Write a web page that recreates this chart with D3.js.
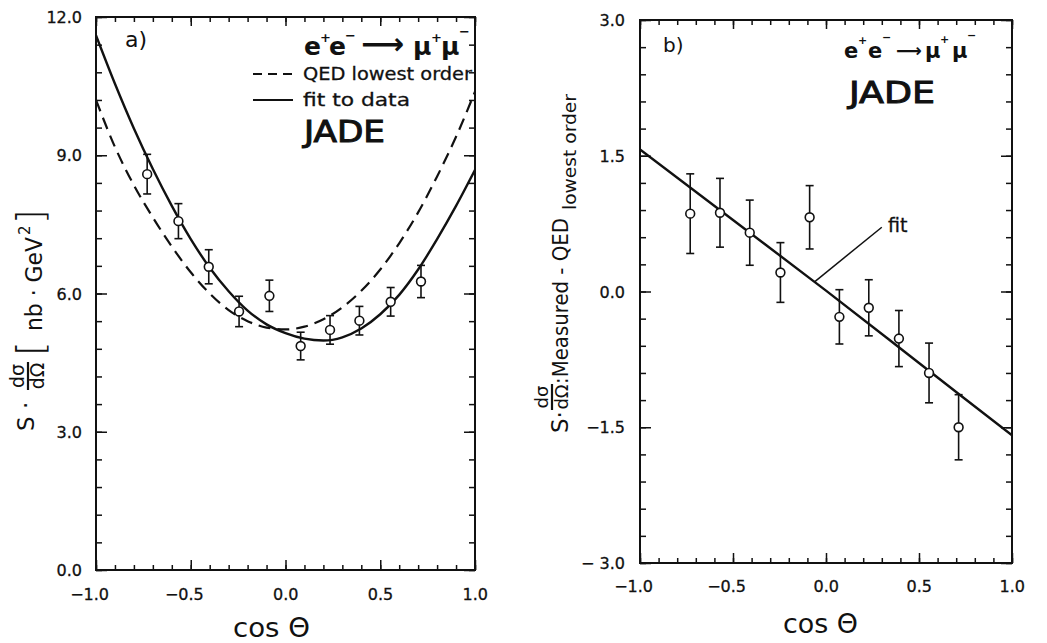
<!DOCTYPE html>
<html><head><meta charset="utf-8">
<script src="https://cdn.jsdelivr.net/npm/d3@7"></script>
<style>
body{margin:0;background:#fff}
svg{display:block;background:#fff}
text{font-family:"DejaVu Sans","Liberation Sans",sans-serif;fill:#111}
</style>
</head><body>
<svg id="chart" width="1047" height="643"></svg>
<script>
// ---------------- data ----------------
// panel a) : measured S*dsigma/dOmega [nb GeV^2] per cos(theta) bin
const binCosA   = [-0.73, -0.565, -0.405, -0.245, -0.085, 0.08, 0.235, 0.39, 0.555, 0.715];
const measuredA = [8.59, 7.57, 6.58, 5.61, 5.95, 4.86, 5.21, 5.41, 5.82, 6.26];
const errorA    = [0.43, 0.38, 0.37, 0.33, 0.34, 0.30, 0.31, 0.31, 0.31, 0.35];
// curves of panel a)
const curveCos  = [-1.0,-0.9,-0.8,-0.7,-0.6,-0.5,-0.4,-0.3,-0.2,-0.1,0.0,0.1,0.2,0.3,0.4,0.5,0.6,0.7,0.8,0.9,1.0];
const qedLowest = [10.20,9.18,8.35,7.65,7.02,6.46,6.00,5.64,5.40,5.26,5.22,5.28,5.44,5.70,6.06,6.52,7.09,7.76,8.54,9.40,10.38];
const fitToData = [11.60,10.55,9.58,8.70,7.90,7.18,6.56,6.05,5.63,5.33,5.14,5.02,4.98,5.05,5.24,5.55,5.97,6.52,7.18,7.90,8.68];
// panel b) : measured - QED lowest order
const binCosB   = [-0.73, -0.57, -0.41, -0.245, -0.088, 0.072, 0.23, 0.392, 0.554, 0.713];
const diffB     = [0.86, 0.87, 0.65, 0.21, 0.82, -0.28, -0.18, -0.52, -0.90, -1.50];
const errorB    = [0.44, 0.38, 0.36, 0.33, 0.35, 0.30, 0.31, 0.31, 0.33, 0.36];
const fitCosB   = [-1.0, -0.5, 0.0, 0.5, 1.0];
const fitB      = [1.57, 0.79, 0.01, -0.79, -1.59];
// ticks
const xMajor      = [-1.0, -0.5, 0.0, 0.5, 1.0];
const xTickLabels = ["\u22121.0", "\u22120.5", "0.0", "0.5", "1.0"];
const xMinor      = d3.range(-10, 11).map(i => i / 10);
const yMajorA     = [0, 3, 6, 9, 12];
const yLabelsA    = ["0.0", "3.0", "6.0", "9.0", "12.0"];
const yMinorA     = d3.range(0, 21).map(i => +(i * 0.6).toFixed(2));
const yMajorB     = [-3, -1.5, 0, 1.5, 3];
const yLabelsB    = ["\u2212 3.0", "\u22121.5", "0.0", "1.5", "3.0"];
const yMinorB     = d3.range(-10, 11).map(i => +(i * 0.3).toFixed(2));

// ---------------- layout ----------------
const svg = d3.select("#chart");
const A = {x0: 96, x1: 475, y0: 570, y1: 17};
const B = {x0: 640, x1: 1012, y0: 563, y1: 20};
const xA = d3.scaleLinear().domain([-1, 1]).range([A.x0, A.x1]);
const yA = d3.scaleLinear().domain([0, 12]).range([A.y0, A.y1]);
const xB = d3.scaleLinear().domain([-1, 1]).range([B.x0, B.x1]);
const yB = d3.scaleLinear().domain([-3, 3]).range([B.y0, B.y1]);

function frame(P, x, y, yMinor, yMajor) {
  const g = svg.append("g");
  const add = (axis, tr) => {
    const a = g.append("g").attr("transform", tr).call(axis);
    a.select(".domain").remove();
    a.selectAll("line").attr("stroke", "#111").attr("stroke-width", 1.5);
    a.selectAll("text").remove();
  };
  add(d3.axisBottom(x).tickValues(xMinor).tickSize(-5), `translate(0,${P.y0})`);
  add(d3.axisBottom(x).tickValues(xMajor).tickSize(-10), `translate(0,${P.y0})`);
  add(d3.axisTop(x).tickValues(xMinor).tickSize(-5), `translate(0,${P.y1})`);
  add(d3.axisTop(x).tickValues(xMajor).tickSize(-9), `translate(0,${P.y1})`);
  add(d3.axisLeft(y).tickValues(yMinor).tickSize(-6), `translate(${P.x0},0)`);
  add(d3.axisLeft(y).tickValues(yMajor).tickSize(-11), `translate(${P.x0},0)`);
  add(d3.axisRight(y).tickValues(yMinor).tickSize(-6), `translate(${P.x1},0)`);
  add(d3.axisRight(y).tickValues(yMajor).tickSize(-11), `translate(${P.x1},0)`);
  g.append("rect").attr("x", P.x0).attr("y", P.y1)
    .attr("width", P.x1 - P.x0).attr("height", P.y0 - P.y1)
    .attr("fill", "none").attr("stroke", "#111").attr("stroke-width", 2);
  return g;
}
frame(A, xA, yA, yMinorA, yMajorA);
frame(B, xB, yB, yMinorB, yMajorB);

// tick labels
function tickLabels(x, y, yMajor, yLabels, xBase, yEnd) {
  svg.append("g").selectAll("text").data(xMajor).join("text")
    .attr("x", d => x(d) + 13).attr("y", xBase)
    .attr("text-anchor", "end").attr("font-size", 16)
    .attr("stroke", "#111").attr("stroke-width", 0.3)
    .text((d, i) => xTickLabels[i]);
  svg.append("g").selectAll("text").data(yMajor).join("text")
    .attr("x", yEnd).attr("y", d => y(d) + 6)
    .attr("text-anchor", "end").attr("font-size", 16)
    .attr("stroke", "#111").attr("stroke-width", 0.3)
    .text((d, i) => yLabels[i]);
}
tickLabels(xA, yA, yMajorA, yLabelsA, 600, 82);
tickLabels(xB, yB, yMajorB, yLabelsB, 592, 625);

// clip
svg.append("clipPath").attr("id", "clipA").append("rect")
  .attr("x", A.x0).attr("y", A.y1).attr("width", A.x1 - A.x0).attr("height", A.y0 - A.y1);
svg.append("clipPath").attr("id", "clipB").append("rect")
  .attr("x", B.x0).attr("y", B.y1).attr("width", B.x1 - B.x0).attr("height", B.y0 - B.y1);

// curves panel a
const lineA = d3.line().x(d => xA(d[0])).y(d => yA(d[1])).curve(d3.curveMonotoneX);
svg.append("path").attr("clip-path", "url(#clipA)")
  .attr("d", lineA(curveCos.map((c, i) => [c, qedLowest[i]])))
  .attr("fill", "none").attr("stroke", "#111").attr("stroke-width", 2.2)
  .attr("stroke-dasharray", "12,7");
svg.append("path").attr("clip-path", "url(#clipA)")
  .attr("d", lineA(curveCos.map((c, i) => [c, fitToData[i]])))
  .attr("fill", "none").attr("stroke", "#111").attr("stroke-width", 2.4);

// fit line panel b
const lineB = d3.line().x(d => xB(d[0])).y(d => yB(d[1])).curve(d3.curveMonotoneX);
svg.append("path").attr("clip-path", "url(#clipB)")
  .attr("d", lineB(fitCosB.map((c, i) => [c, fitB[i]])))
  .attr("fill", "none").attr("stroke", "#111").attr("stroke-width", 2.4);

// error bars + points
function points(xs, vs, es, x, y) {
  const g = svg.append("g").attr("stroke", "#111").attr("stroke-width", 1.6);
  const d = xs.map((c, i) => ({c, v: vs[i], e: es[i]}));
  g.selectAll("line.v").data(d).join("line")
    .attr("x1", p => x(p.c)).attr("x2", p => x(p.c))
    .attr("y1", p => y(p.v - p.e)).attr("y2", p => y(p.v + p.e));
  g.selectAll("line.t").data(d).join("line")
    .attr("x1", p => x(p.c) - 4).attr("x2", p => x(p.c) + 4)
    .attr("y1", p => y(p.v + p.e)).attr("y2", p => y(p.v + p.e));
  g.selectAll("line.b").data(d).join("line")
    .attr("x1", p => x(p.c) - 4).attr("x2", p => x(p.c) + 4)
    .attr("y1", p => y(p.v - p.e)).attr("y2", p => y(p.v - p.e));
  g.selectAll("circle").data(d).join("circle")
    .attr("cx", p => x(p.c)).attr("cy", p => y(p.v)).attr("r", 4.4)
    .attr("fill", "#fff");
}
points(binCosA, measuredA, errorA, xA, yA);
points(binCosB, diffB, errorB, xB, yB);

// ---------------- text annotations ----------------
svg.append("text").attr("x", 125).attr("y", 47).attr("font-size", 22).text("a)");
svg.append("text").attr("x", 663).attr("y", 52).attr("font-size", 20).text("b)");

function reaction(base, parts, size, supSize) {
  const t = svg.append("text").attr("font-weight", "bold");
  parts.forEach(p => {
    t.append("tspan").attr("x", p.x).attr("y", base + (p.dy || 0))
      .attr("font-size", p.sup ? supSize : (p.fs || size)).text(p.t);
  });
}
reaction(55, [
  {t: "e", x: 304}, {t: "+", x: 320, dy: -13, sup: 1},
  {t: "e", x: 329}, {t: "\u2212", x: 345, dy: -15, sup: 1},
  {t: "\u27F6", x: 361, dy: -1, fs: 30},
  {t: "\u03BC", x: 413}, {t: "+", x: 431, dy: -13, sup: 1},
  {t: "\u03BC", x: 441}, {t: "\u2212", x: 459, dy: -19, sup: 1}
], 25, 13);
reaction(58, [
  {t: "e", x: 844}, {t: "+", x: 858, dy: -14, sup: 1},
  {t: "e", x: 868}, {t: "\u2212", x: 882, dy: -17, sup: 1},
  {t: "\u27F6", x: 896, dy: -1, fs: 18},
  {t: "\u03BC", x: 925}, {t: "+", x: 940, dy: -15, sup: 1},
  {t: "\u03BC", x: 952}, {t: "\u2212", x: 967, dy: -19, sup: 1}
], 21, 11);

// legend
svg.append("line").attr("x1", 253).attr("x2", 293).attr("y1", 74).attr("y2", 74)
  .attr("stroke", "#111").attr("stroke-width", 2).attr("stroke-dasharray", "9,6");
svg.append("line").attr("x1", 253).attr("x2", 293).attr("y1", 100).attr("y2", 100)
  .attr("stroke", "#111").attr("stroke-width", 2);
svg.append("text").attr("x", 303).attr("y", 80).attr("font-size", 18)
  .attr("stroke", "#111").attr("stroke-width", 0.3)
  .attr("textLength", 169).attr("lengthAdjust", "spacingAndGlyphs").text("QED  lowest order");
svg.append("text").attr("x", 303).attr("y", 106).attr("font-size", 18)
  .attr("stroke", "#111").attr("stroke-width", 0.3)
  .attr("textLength", 107).attr("lengthAdjust", "spacingAndGlyphs").text("fit  to  data");
svg.append("text").attr("x", 304).attr("y", 142).attr("font-size", 30)
  .attr("stroke", "#111").attr("stroke-width", 1)
  .attr("textLength", 81).attr("lengthAdjust", "spacingAndGlyphs").text("JADE");
svg.append("text").attr("x", 849).attr("y", 103).attr("font-size", 31)
  .attr("stroke", "#111").attr("stroke-width", 1)
  .attr("textLength", 86).attr("lengthAdjust", "spacingAndGlyphs").text("JADE");

// "fit" annotation in panel b
svg.append("line").attr("x1", xB(0.30)).attr("y1", yB(0.71)).attr("x2", xB(-0.06)).attr("y2", yB(0.11))
  .attr("stroke", "#111").attr("stroke-width", 1.5);
svg.append("text").attr("x", 888).attr("y", 232).attr("font-size", 19)
  .attr("stroke", "#111").attr("stroke-width", 0.3).text("fit");

// x-axis titles
svg.append("text").attr("x", 233).attr("y", 637).attr("font-size", 26)
  .attr("textLength", 77).attr("lengthAdjust", "spacingAndGlyphs").text("cos \u0398");
svg.append("text").attr("x", 783).attr("y", 633).attr("font-size", 26)
  .attr("textLength", 75).attr("lengthAdjust", "spacingAndGlyphs").text("cos \u0398");

// y-axis title panel a (rotated: x attr = -screenY, y attr = screenX)
const la = svg.append("g").attr("transform", "rotate(-90)");
la.append("text").attr("x", -431).attr("y", 34).attr("font-size", 23).text("S \u00B7");
la.append("text").attr("x", -376).attr("y", 24).attr("font-size", 19).attr("text-anchor", "middle").text("d\u03C3");
la.append("line").attr("x1", -390).attr("x2", -362).attr("y1", 28).attr("y2", 28).attr("stroke", "#111").attr("stroke-width", 2.2);
la.append("text").attr("x", -376).attr("y", 44).attr("font-size", 19).attr("text-anchor", "middle").text("d\u03A9");
la.append("text").attr("x", -356).attr("y", 43).attr("font-size", 38).attr("font-weight", 200).text("[");
la.append("text").attr("x", -331).attr("y", 42).attr("font-size", 23)
  .attr("textLength", 94).attr("lengthAdjust", "spacingAndGlyphs").text("nb \u00B7 GeV");
la.append("text").attr("x", -235).attr("y", 30).attr("font-size", 15).text("2");
la.append("text").attr("x", -224).attr("y", 43).attr("font-size", 38).attr("font-weight", 200).text("]");

// y-axis title panel b
const lb = svg.append("g").attr("transform", "rotate(-90)");
lb.append("text").attr("x", -433).attr("y", 568).attr("font-size", 23).text("S\u00B7");
lb.append("text").attr("x", -397).attr("y", 548).attr("font-size", 18).attr("text-anchor", "middle").text("d\u03C3");
lb.append("line").attr("x1", -410).attr("x2", -384).attr("y1", 552).attr("y2", 552).attr("stroke", "#111").attr("stroke-width", 2.2);
lb.append("text").attr("x", -397).attr("y", 568).attr("font-size", 18).attr("text-anchor", "middle").text("d\u03A9");
lb.append("text").attr("x", -384).attr("y", 568).attr("font-size", 22)
  .attr("textLength", 166).attr("lengthAdjust", "spacingAndGlyphs").text(":Measured - QED");
lb.append("text").attr("x", -210).attr("y", 576).attr("font-size", 18)
  .attr("textLength", 116).attr("lengthAdjust", "spacingAndGlyphs").text("lowest order");
</script>
</body></html>
